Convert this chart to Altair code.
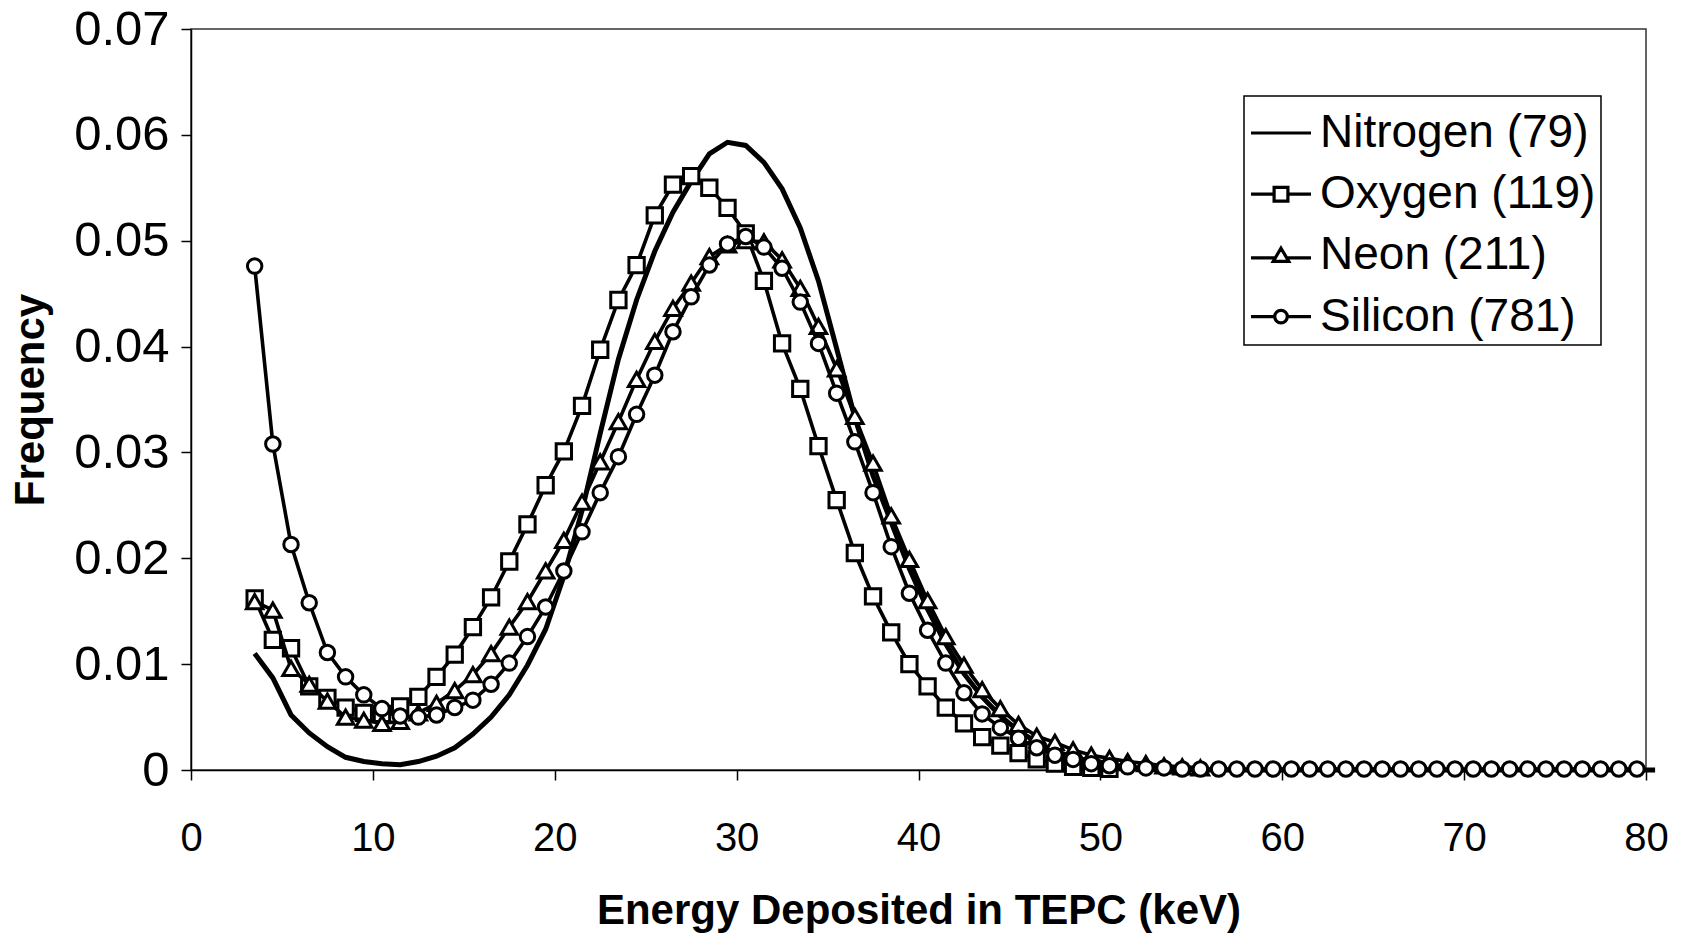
import altair as alt
import pandas as pd

# ---- data ----
energy_kev = [3.5, 4.5, 5.5, 6.5, 7.5, 8.5, 9.5, 10.5, 11.5, 12.5,
              13.5, 14.5, 15.5, 16.5, 17.5, 18.5, 19.5, 20.5, 21.5, 22.5,
              23.5, 24.5, 25.5, 26.5, 27.5, 28.5, 29.5, 30.5, 31.5, 32.5,
              33.5, 34.5, 35.5, 36.5, 37.5, 38.5, 39.5, 40.5, 41.5, 42.5,
              43.5, 44.5, 45.5, 46.5, 47.5, 48.5, 49.5, 50.5, 51.5, 52.5,
              53.5, 54.5, 55.5, 56.5, 57.5, 58.5, 59.5, 60.5, 61.5, 62.5,
              63.5, 64.5, 65.5, 66.5, 67.5, 68.5, 69.5, 70.5, 71.5, 72.5,
              73.5, 74.5, 75.5, 76.5, 77.5, 78.5, 79.5, 80.5]

nitrogen = [0.0110, 0.0087, 0.0052, 0.0035, 0.0022, 0.0012, 0.0008, 0.0006, 0.0005, 0.0008,
            0.0013, 0.0021, 0.0034, 0.0050, 0.0071, 0.0099, 0.0133, 0.0183, 0.0245, 0.0318,
            0.0388, 0.0444, 0.0490, 0.0527, 0.0556, 0.0582, 0.0593, 0.0590, 0.0574, 0.0549,
            0.0512, 0.0462, 0.0398, 0.0333, 0.0278, 0.0234, 0.0190, 0.0152, 0.0119, 0.0091,
            0.0069, 0.0051, 0.0037, 0.0026, 0.0018, 0.0012, 0.0008, 0.0005, 0.0003, 0.0001,
            0.0, 0.0, 0.0, 0.0, 0.0, 0.0, 0.0, 0.0, 0.0, 0.0,
            0.0, 0.0, 0.0, 0.0, 0.0, 0.0, 0.0, 0.0, 0.0, 0.0,
            0.0, 0.0, 0.0, 0.0, 0.0, 0.0, 0.0, 0.0]

oxygen = [0.0162, 0.0123, 0.0115, 0.0079, 0.0068, 0.0059, 0.0054, 0.0053, 0.0060, 0.0069,
          0.0088, 0.0109, 0.0135, 0.0163, 0.0197, 0.0232, 0.0269, 0.0301, 0.0344, 0.0397,
          0.0444, 0.0477, 0.0524, 0.0553, 0.0561, 0.0550, 0.0531, 0.0507, 0.0462, 0.0403,
          0.0360, 0.0306, 0.0255, 0.0205, 0.0164, 0.0130, 0.0100, 0.0079, 0.0059, 0.0044,
          0.0031, 0.0023, 0.0016, 0.0010, 0.0006, 0.0003, 0.0002, 0.0001]

neon = [0.0159, 0.0151, 0.0096, 0.0081, 0.0065, 0.0050, 0.0047, 0.0044, 0.0046, 0.0054,
        0.0063, 0.0075, 0.0090, 0.0110, 0.0135, 0.0159, 0.0188, 0.0217, 0.0253, 0.0291,
        0.0329, 0.0369, 0.0405, 0.0436, 0.0460, 0.0485, 0.0496, 0.0500, 0.0499, 0.0482,
        0.0455, 0.0419, 0.0379, 0.0334, 0.0290, 0.0240, 0.0199, 0.0160, 0.0126, 0.0099,
        0.0076, 0.0058, 0.0043, 0.0032, 0.0026, 0.0019, 0.0014, 0.0011, 0.0008, 0.0006,
        0.0004, 0.0003, 0.0002]

silicon = [0.0476, 0.0308, 0.0213, 0.0158, 0.0111, 0.0088, 0.0071, 0.0058, 0.0051, 0.0050,
           0.0052, 0.0059, 0.0066, 0.0081, 0.0101, 0.0126, 0.0154, 0.0188, 0.0225, 0.0262,
           0.0296, 0.0336, 0.0373, 0.0414, 0.0447, 0.0477, 0.0497, 0.0504, 0.0494, 0.0474,
           0.0442, 0.0403, 0.0356, 0.0310, 0.0262, 0.0211, 0.0167, 0.0132, 0.0101, 0.0073,
           0.0053, 0.0040, 0.0030, 0.0021, 0.0014, 0.0010, 0.0006, 0.0004, 0.0003, 0.0002,
           0.0002, 0.0001, 0.0001, 0.0001, 0.0001, 0.0001, 0.0001, 0.0001, 0.0001, 0.0001,
           0.0001, 0.0001, 0.0001, 0.0001, 0.0001, 0.0001, 0.0001, 0.0001, 0.0001, 0.0001,
           0.0001, 0.0001, 0.0001, 0.0001, 0.0001, 0.0001, 0.0001]

series_names = ["Nitrogen (79)", "Oxygen (119)", "Neon (211)", "Silicon (781)"]
x_ticks = [0, 10, 20, 30, 40, 50, 60, 70, 80]
y_ticks = [0, 0.01, 0.02, 0.03, 0.04, 0.05, 0.06, 0.07]

rows = []
for name, vals in zip(series_names, [nitrogen, oxygen, neon, silicon]):
    for e, v in zip(energy_kev, vals):
        rows.append({"energy": e, "freq": v, "series": name})
df = pd.DataFrame(rows)

FONT = "Liberation Sans"

X = alt.X("energy:Q",
          scale=alt.Scale(domain=[0, 80], nice=False, zero=False),
          axis=alt.Axis(values=x_ticks, title="Energy Deposited in TEPC (keV)",
                        labelFontSize=40, labelPadding=38, tickSize=10,
                        titleFontSize=42, titleFontWeight="bold",
                        titleY=153, titleBaseline="alphabetic",
                        labelFlush=False, labelOverlap=False))
Y = alt.Y("freq:Q",
          scale=alt.Scale(domain=[0, 0.07], nice=False, zero=True),
          axis=alt.Axis(values=y_ticks, title="Frequency",
                        labelExpr="datum.value == 0 ? '0' : format(datum.value, '.2f')",
                        labelFontSize=49, labelPadding=12, tickSize=10,
                        titleFontSize=42, titleFontWeight="bold",
                        titleX=-148, titleBaseline="alphabetic",
                        labelFlush=False, labelOverlap=False))


def base(name):
    return alt.Chart(df).transform_filter(alt.datum.series == name)


layers = [base(series_names[0]).mark_line(color="black", strokeWidth=5).encode(x=X, y=Y)]

marker = {
    series_names[1]: ("square", 235),
    series_names[2]: ("triangle-up", 270),
    series_names[3]: ("circle", 210),
}
for name in series_names[1:]:
    shp, sz = marker[name]
    layers.append(base(name).mark_line(color="black", strokeWidth=3.6).encode(x=X, y=Y))
    layers.append(base(name).mark_point(shape=shp, size=sz, filled=True, fill="white",
                                        stroke="black", strokeWidth=3, opacity=1)
                  .encode(x=X, y=Y))

legend_paths = [
    "M -1 0 L 1 0",
    "M -1 0 L -0.23 0 M -0.23 -0.23 L 0.23 -0.23 L 0.23 0.23 L -0.23 0.23 Z M 0.23 0 L 1 0",
    "M -1 0.08 L -0.19 0.08 M 0 -0.24 L 0.26 0.2 L -0.26 0.2 Z M 0.19 0.08 L 1 0.08",
    "M -1 0 L -0.21 0 M -0.21 0 A 0.21 0.21 0 1 1 0.21 0 A 0.21 0.21 0 1 1 -0.21 0 Z M 0.21 0 L 1 0",
]

legend_layer = alt.Chart(df).mark_point(opacity=0).encode(
    x=X, y=Y,
    shape=alt.Shape("series:N",
                    scale=alt.Scale(domain=series_names, range=legend_paths),
                    legend=alt.Legend(title=None, orient="none", legendX=1053, legendY=67,
                                      symbolSize=3600, symbolStrokeWidth=3.2,
                                      symbolFillColor="white", symbolStrokeColor="black",
                                      symbolOpacity=1, labelFont=FONT, labelFontSize=46,
                                      labelColor="black", labelLimit=500, labelOffset=7,
                                      fillColor="white", strokeColor="black",
                                      padding=5, rowPadding=6.2)),
)
layers.append(legend_layer)

chart = alt.layer(*layers).properties(
    width=1455, height=741,
    padding={"left": 191, "top": 29, "right": 35, "bottom": 164},
    autosize=alt.AutoSizeParams(type="none"),
    background="white",
).configure_view(
    stroke="#333", strokeWidth=1.5
).configure_axis(
    grid=False, domainColor="black", domainWidth=1.5, tickColor="black", tickWidth=1.5,
    labelColor="black", titleColor="black", labelFont=FONT, titleFont=FONT,
).configure_legend(
    strokeWidth=1.5
)

chart.save("out.html", embed_options={"renderer": "svg", "actions": False})
